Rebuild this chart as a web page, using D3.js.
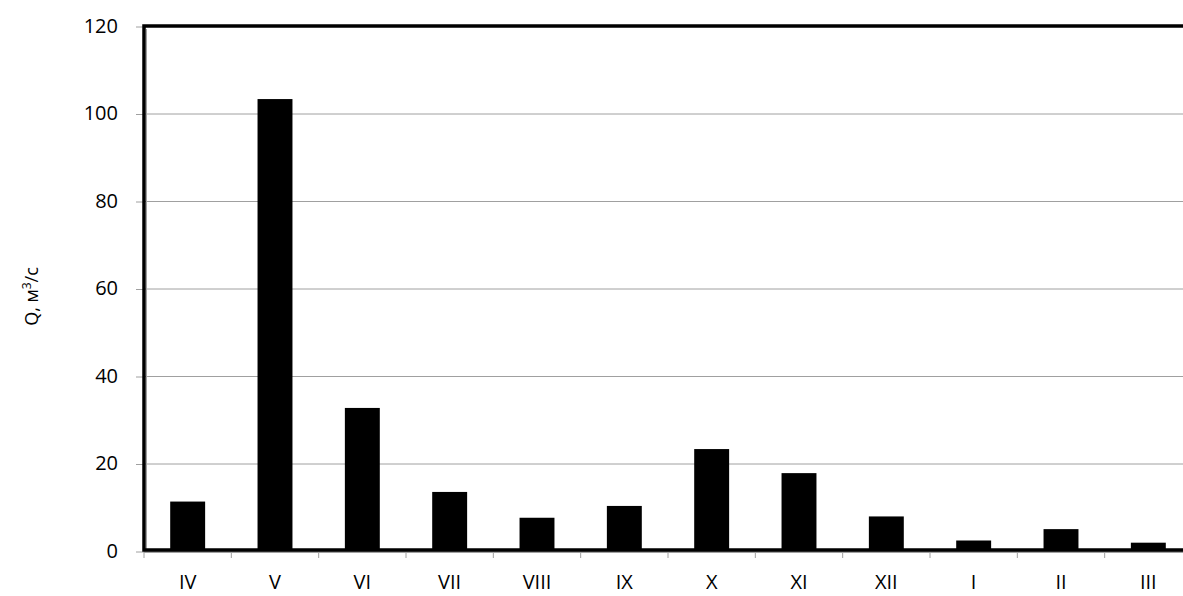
<!DOCTYPE html>
<html>
<head>
<meta charset="utf-8">
<script src="https://cdn.jsdelivr.net/npm/d3@7"></script>
<style>
  body { margin: 0; background: #fff; }
  svg { display: block; font-family: "Open Sans", sans-serif; }
</style>
</head>
<body>
<svg id="chart" width="1183" height="596"></svg>
<script>
const WIDTH = 1183;
const HEIGHT = 596;

// months of the hydrological year
const months = ["IV", "V", "VI", "VII", "VIII", "IX", "X", "XI", "XII", "I", "II", "III"];
// mean discharge, m3/s
const discharge = [11.3, 103.3, 32.7, 13.5, 7.6, 10.3, 23.3, 17.8, 7.9, 2.4, 5.0, 1.9];
const yTicks = [0, 20, 40, 60, 80, 100, 120];

const svg = d3.select("#chart");

const plotLeft = 144, plotRight = 1192, plotTop = 26, plotBottom = 551;

const x = d3.scaleBand()
  .domain(months)
  .range([plotLeft, plotRight])
  .paddingInner(0.6)
  .paddingOuter(0.3);

const y = d3.scaleLinear()
  .domain([0, 120])
  .range([plotBottom, plotTop]);

// gridlines
svg.append("g")
  .selectAll("line")
  .data(yTicks)
  .join("line")
  .attr("x1", plotLeft)
  .attr("x2", WIDTH)
  .attr("y1", d => y(d) + 0.5)
  .attr("y2", d => y(d) + 0.5)
  .attr("stroke", "#a0a0a0")
  .attr("stroke-width", 1);

// y axis ticks + labels
const yAxis = svg.append("g")
  .attr("transform", `translate(${plotLeft},0)`)
  .call(d3.axisLeft(y).tickValues(yTicks).tickSize(8).tickPadding(18));
yAxis.select(".domain").remove();
yAxis.selectAll(".tick line").attr("stroke", "#a0a0a0").attr("transform", "translate(0,0.5)");
yAxis.selectAll(".tick text")
  .attr("font-size", 20)
  .attr("font-family", "Open Sans, sans-serif")
  .attr("fill", "#000");

// bars
svg.append("g")
  .selectAll("rect")
  .data(discharge)
  .join("rect")
  .attr("x", (d, i) => x(months[i]))
  .attr("y", d => y(d))
  .attr("width", x.bandwidth())
  .attr("height", d => y(0) - y(d))
  .attr("fill", "#000");

// x axis: gray base line, ticks between categories
const step = x.step();
const xb = svg.append("g");
xb.append("line")
  .attr("x1", plotLeft).attr("x2", WIDTH)
  .attr("y1", plotBottom + 1.5).attr("y2", plotBottom + 1.5)
  .attr("stroke", "#a0a0a0");
xb.selectAll("line.tick")
  .data(d3.range(months.length + 1))
  .join("line")
  .attr("class", "tick")
  .attr("x1", i => plotLeft + i * step)
  .attr("x2", i => plotLeft + i * step)
  .attr("y1", plotBottom + 1)
  .attr("y2", plotBottom + 7)
  .attr("stroke", "#a0a0a0");
xb.selectAll("text")
  .data(months)
  .join("text")
  .attr("x", d => x(d) + x.bandwidth() / 2)
  .attr("y", 589)
  .attr("text-anchor", "middle")
  .attr("font-size", 20)
  .attr("fill", "#000")
  .text(d => d);

// gray inner frame line on the left
svg.append("line")
  .attr("x1", plotLeft + 2.5).attr("x2", plotLeft + 2.5)
  .attr("y1", plotTop + 3).attr("y2", plotBottom + 1)
  .attr("stroke", "#a0a0a0");

// thick black frame (top, left, bottom)
svg.append("path")
  .attr("d", `M${WIDTH + 5},${plotBottom - 1} H${plotLeft} V${plotTop} H${WIDTH + 5}`)
  .attr("fill", "none")
  .attr("stroke", "#000")
  .attr("stroke-width", 3.5);

// y axis title
const title = svg.append("text")
  .attr("transform", `translate(38,${(plotTop + plotBottom) / 2 + 8}) rotate(-90)`)
  .attr("text-anchor", "middle")
  .attr("font-size", 18)
  .attr("fill", "#000");
title.append("tspan").text("Q, м");
title.append("tspan").attr("font-size", 12).attr("dy", -7).text("3");
title.append("tspan").attr("dy", 7).text("/с");
</script>
</body>
</html>
